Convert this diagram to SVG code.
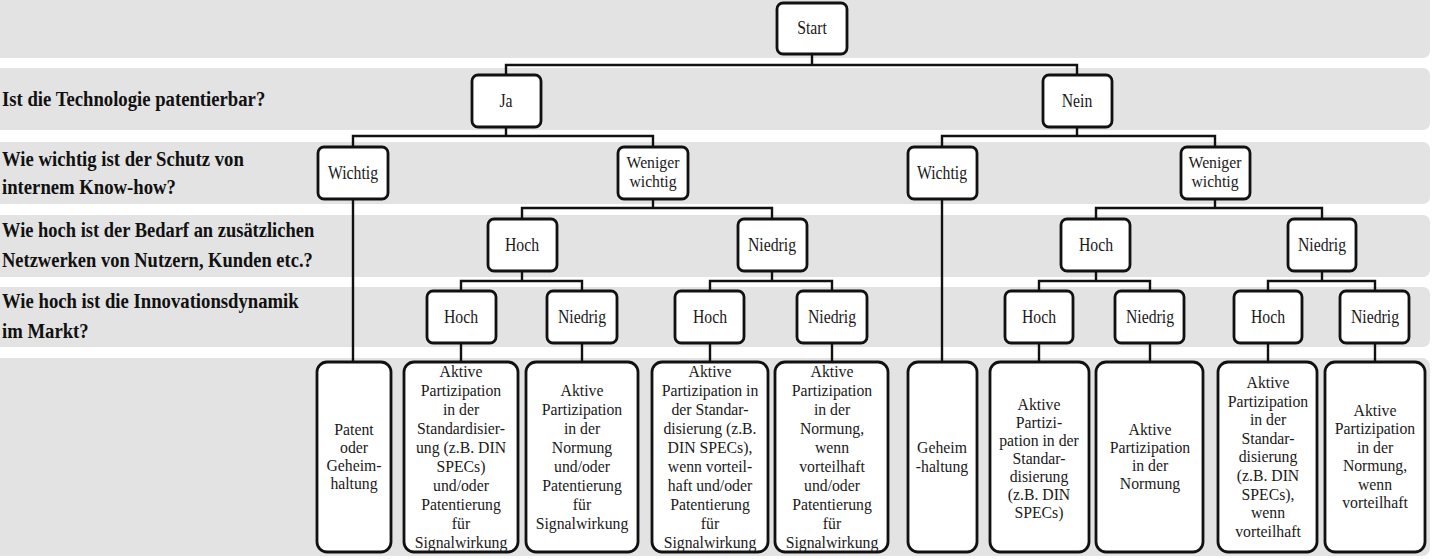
<svg xmlns="http://www.w3.org/2000/svg" width="1433" height="559" viewBox="0 0 1433 559">
<style>
.band{fill:#e3e3e3}
.box{fill:#fff;stroke:#111;stroke-width:2.8}
.con{fill:none;stroke:#111;stroke-width:2.4}
.lbl{font-family:"Liberation Serif","Times New Roman",serif;font-weight:bold;font-size:22px;fill:#111}
.t{font-family:"Liberation Serif","Times New Roman",serif;font-size:19px;fill:#1a1a1a;text-anchor:middle}
.b{font-family:"Liberation Serif","Times New Roman",serif;font-size:17.5px;fill:#1a1a1a;text-anchor:middle}
</style>
<rect width="1433" height="559" fill="#fff"/>
<g id="bands">
<rect class="band" x="-8" y="-8" width="1438" height="66" rx="7"/>
<rect class="band" x="-8" y="68" width="1438" height="62" rx="7"/>
<rect class="band" x="-8" y="142" width="1438" height="62" rx="7"/>
<rect class="band" x="-8" y="215" width="1438" height="62" rx="7"/>
<rect class="band" x="-8" y="287" width="1438" height="60" rx="7"/>
<rect class="band" x="-8" y="358" width="1438" height="198" rx="8"/>
</g>
<g id="row-labels">
<text class="lbl" transform="translate(2 0) scale(0.85 1)"><tspan x="0" y="106">Ist die Technologie patentierbar?</tspan></text>
<text class="lbl" transform="translate(2 0) scale(0.85 1)"><tspan x="0" y="166">Wie wichtig ist der Schutz von</tspan><tspan x="0" y="194">internem Know-how?</tspan></text>
<text class="lbl" transform="translate(2 0) scale(0.84 1)"><tspan x="0" y="237">Wie hoch ist der Bedarf an zusätzlichen</tspan><tspan x="0" y="267">Netzwerken von Nutzern, Kunden etc.?</tspan></text>
<text class="lbl" transform="translate(2 0) scale(0.85 1)"><tspan x="0" y="308">Wie hoch ist die Innovationsdynamik</tspan><tspan x="0" y="338">im Markt?</tspan></text>
</g>
<g id="connectors">
<path class="con" d="M812 54V65M506 75V65H1077V75"/>
<path class="con" d="M506 127V136M353 147V136H653V147"/>
<path class="con" d="M1077 127V136M942 147V136H1215V147"/>
<path class="con" d="M653 199V208M522 219V208H772V219"/>
<path class="con" d="M1215 199V208M1096 219V208H1322V219"/>
<path class="con" d="M522 271V281M461 291V281H582V291"/>
<path class="con" d="M772 271V281M710 291V281H832V291"/>
<path class="con" d="M1096 271V281M1039 291V281H1150V291"/>
<path class="con" d="M1322 271V281M1268 291V281H1375V291"/>
<path class="con" d="M353 199V362M942 199V362"/>
<path class="con" d="M461 343V362M582 343V362M710 343V362M832 343V362M1039 343V362M1150 343V362M1268 343V362M1375 343V362"/>
</g>
<g id="n-start"><rect class="box" x="777" y="3" width="70" height="51" rx="6"/><text class="t" transform="translate(812 0) scale(0.83 1)"><tspan x="0" y="34">Start</tspan></text></g>
<g id="n-ja"><rect class="box" x="472" y="75" width="69" height="52" rx="6"/><text class="t" transform="translate(506 0) scale(0.83 1)"><tspan x="0" y="107">Ja</tspan></text></g>
<g id="n-nein"><rect class="box" x="1043" y="75" width="69" height="52" rx="6"/><text class="t" transform="translate(1077 0) scale(0.83 1)"><tspan x="0" y="107">Nein</tspan></text></g>
<g id="n-ja-wichtig"><rect class="box" x="318" y="147" width="70" height="52" rx="6"/><text class="t" transform="translate(353 0) scale(0.83 1)"><tspan x="0" y="179">Wichtig</tspan></text></g>
<g id="n-ja-weniger"><rect class="box" x="618" y="147" width="70" height="52" rx="6"/><text class="b" transform="translate(653 0) scale(0.9 1)"><tspan x="0" y="168">Weniger</tspan><tspan x="0" y="187">wichtig</tspan></text></g>
<g id="n-nein-wichtig"><rect class="box" x="908" y="147" width="69" height="52" rx="6"/><text class="t" transform="translate(942 0) scale(0.83 1)"><tspan x="0" y="179">Wichtig</tspan></text></g>
<g id="n-nein-weniger"><rect class="box" x="1181" y="147" width="69" height="52" rx="6"/><text class="b" transform="translate(1215 0) scale(0.9 1)"><tspan x="0" y="168">Weniger</tspan><tspan x="0" y="187">wichtig</tspan></text></g>
<g id="n-l-hoch"><rect class="box" x="488" y="219" width="69" height="52" rx="6"/><text class="t" transform="translate(522 0) scale(0.83 1)"><tspan x="0" y="251">Hoch</tspan></text></g>
<g id="n-l-niedrig"><rect class="box" x="738" y="219" width="69" height="52" rx="6"/><text class="t" transform="translate(772 0) scale(0.83 1)"><tspan x="0" y="251">Niedrig</tspan></text></g>
<g id="n-r-hoch"><rect class="box" x="1061" y="219" width="69" height="52" rx="6"/><text class="t" transform="translate(1096 0) scale(0.83 1)"><tspan x="0" y="251">Hoch</tspan></text></g>
<g id="n-r-niedrig"><rect class="box" x="1288" y="219" width="68" height="52" rx="6"/><text class="t" transform="translate(1322 0) scale(0.83 1)"><tspan x="0" y="251">Niedrig</tspan></text></g>
<g id="n-lh-hoch"><rect class="box" x="427" y="291" width="69" height="52" rx="6"/><text class="t" transform="translate(461 0) scale(0.83 1)"><tspan x="0" y="323">Hoch</tspan></text></g>
<g id="n-lh-niedrig"><rect class="box" x="547" y="291" width="70" height="52" rx="6"/><text class="t" transform="translate(582 0) scale(0.83 1)"><tspan x="0" y="323">Niedrig</tspan></text></g>
<g id="n-ln-hoch"><rect class="box" x="675" y="291" width="69" height="52" rx="6"/><text class="t" transform="translate(710 0) scale(0.83 1)"><tspan x="0" y="323">Hoch</tspan></text></g>
<g id="n-ln-niedrig"><rect class="box" x="797" y="291" width="70" height="52" rx="6"/><text class="t" transform="translate(832 0) scale(0.83 1)"><tspan x="0" y="323">Niedrig</tspan></text></g>
<g id="n-rh-hoch"><rect class="box" x="1005" y="291" width="68" height="52" rx="6"/><text class="t" transform="translate(1039 0) scale(0.83 1)"><tspan x="0" y="323">Hoch</tspan></text></g>
<g id="n-rh-niedrig"><rect class="box" x="1115" y="291" width="69" height="52" rx="6"/><text class="t" transform="translate(1150 0) scale(0.83 1)"><tspan x="0" y="323">Niedrig</tspan></text></g>
<g id="n-rn-hoch"><rect class="box" x="1234" y="291" width="68" height="52" rx="6"/><text class="t" transform="translate(1268 0) scale(0.83 1)"><tspan x="0" y="323">Hoch</tspan></text></g>
<g id="n-rn-niedrig"><rect class="box" x="1340" y="291" width="69" height="52" rx="6"/><text class="t" transform="translate(1375 0) scale(0.83 1)"><tspan x="0" y="323">Niedrig</tspan></text></g>
<g id="r1"><rect class="box" x="317" y="362" width="74" height="190" rx="10"/><text class="b" transform="translate(354 0) scale(0.9 1)"><tspan x="0" y="435">Patent</tspan><tspan x="0" y="453">oder</tspan><tspan x="0" y="471">Geheim-</tspan><tspan x="0" y="489">haltung</tspan></text></g>
<g id="r2"><rect class="box" x="404" y="362" width="114" height="190" rx="10"/><text class="b" transform="translate(461 0) scale(0.9 1)"><tspan x="0" y="377">Aktive</tspan><tspan x="0" y="396">Partizipation</tspan><tspan x="0" y="415">in der</tspan><tspan x="0" y="434">Standardisier-</tspan><tspan x="0" y="453">ung (z.B. DIN</tspan><tspan x="0" y="472">SPECs)</tspan><tspan x="0" y="491">und/oder</tspan><tspan x="0" y="510">Patentierung</tspan><tspan x="0" y="529">für</tspan><tspan x="0" y="548">Signalwirkung</tspan></text></g>
<g id="r3"><rect class="box" x="526" y="362" width="112" height="190" rx="10"/><text class="b" transform="translate(582 0) scale(0.9 1)"><tspan x="0" y="396">Aktive</tspan><tspan x="0" y="415">Partizipation</tspan><tspan x="0" y="434">in der</tspan><tspan x="0" y="453">Normung</tspan><tspan x="0" y="472">und/oder</tspan><tspan x="0" y="491">Patentierung</tspan><tspan x="0" y="510">für</tspan><tspan x="0" y="529">Signalwirkung</tspan></text></g>
<g id="r4"><rect class="box" x="652" y="362" width="116" height="190" rx="10"/><text class="b" transform="translate(710 0) scale(0.9 1)"><tspan x="0" y="377">Aktive</tspan><tspan x="0" y="396">Partizipation in</tspan><tspan x="0" y="415">der Standar-</tspan><tspan x="0" y="434">disierung (z.B.</tspan><tspan x="0" y="453">DIN SPECs),</tspan><tspan x="0" y="472">wenn vorteil-</tspan><tspan x="0" y="491">haft und/oder</tspan><tspan x="0" y="510">Patentierung</tspan><tspan x="0" y="529">für</tspan><tspan x="0" y="548">Signalwirkung</tspan></text></g>
<g id="r5"><rect class="box" x="775" y="362" width="113" height="190" rx="10"/><text class="b" transform="translate(832 0) scale(0.9 1)"><tspan x="0" y="377">Aktive</tspan><tspan x="0" y="396">Partizipation</tspan><tspan x="0" y="415">in der</tspan><tspan x="0" y="434">Normung,</tspan><tspan x="0" y="453">wenn</tspan><tspan x="0" y="472">vorteilhaft</tspan><tspan x="0" y="491">und/oder</tspan><tspan x="0" y="510">Patentierung</tspan><tspan x="0" y="529">für</tspan><tspan x="0" y="548">Signalwirkung</tspan></text></g>
<g id="r6"><rect class="box" x="908" y="362" width="69" height="190" rx="10"/><text class="b" transform="translate(942 0) scale(0.9 1)"><tspan x="0" y="453">Geheim</tspan><tspan x="0" y="472">-haltung</tspan></text></g>
<g id="r7"><rect class="box" x="990" y="362" width="99" height="190" rx="10"/><text class="b" transform="translate(1039 0) scale(0.9 1)"><tspan x="0" y="410">Aktive</tspan><tspan x="0" y="428">Partizi-</tspan><tspan x="0" y="446">pation in der</tspan><tspan x="0" y="464">Standar-</tspan><tspan x="0" y="482">disierung</tspan><tspan x="0" y="500">(z.B. DIN</tspan><tspan x="0" y="518">SPECs)</tspan></text></g>
<g id="r8"><rect class="box" x="1096" y="362" width="107" height="190" rx="10"/><text class="b" transform="translate(1150 0) scale(0.9 1)"><tspan x="0" y="435">Aktive</tspan><tspan x="0" y="453">Partizipation</tspan><tspan x="0" y="471">in der</tspan><tspan x="0" y="489">Normung</tspan></text></g>
<g id="r9"><rect class="box" x="1218" y="362" width="99" height="190" rx="10"/><text class="b" transform="translate(1268 0) scale(0.9 1)"><tspan x="0" y="388">Aktive</tspan><tspan x="0" y="406.6">Partizipation</tspan><tspan x="0" y="425.2">in der</tspan><tspan x="0" y="443.8">Standar-</tspan><tspan x="0" y="462.4">disierung</tspan><tspan x="0" y="481">(z.B. DIN</tspan><tspan x="0" y="499.6">SPECs),</tspan><tspan x="0" y="518.2">wenn</tspan><tspan x="0" y="536.8">vorteilhaft</tspan></text></g>
<g id="r10"><rect class="box" x="1325" y="362" width="100" height="190" rx="10"/><text class="b" transform="translate(1375 0) scale(0.9 1)"><tspan x="0" y="416">Aktive</tspan><tspan x="0" y="434.4">Partizipation</tspan><tspan x="0" y="452.8">in der</tspan><tspan x="0" y="471.2">Normung,</tspan><tspan x="0" y="489.6">wenn</tspan><tspan x="0" y="508">vorteilhaft</tspan></text></g>
</svg>
